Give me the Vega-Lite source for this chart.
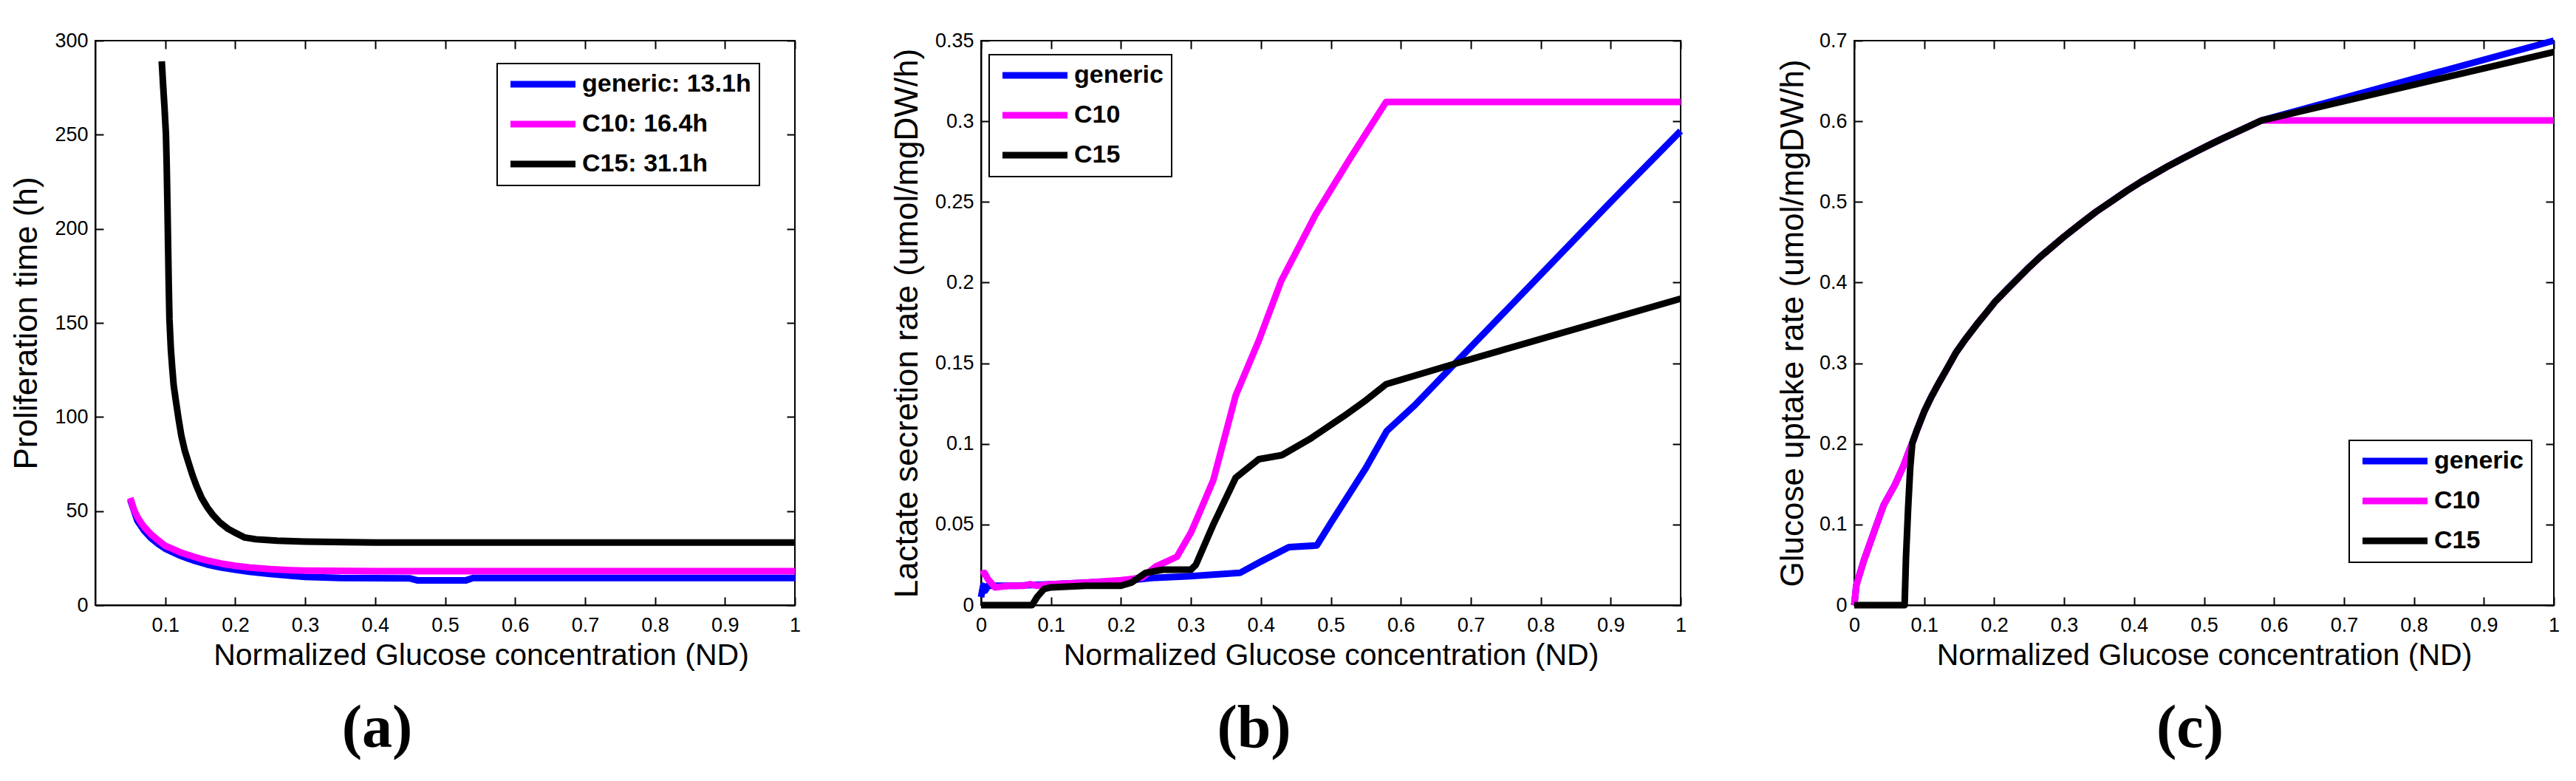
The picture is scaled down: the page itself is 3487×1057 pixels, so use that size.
{
  "$schema": "https://vega.github.io/schema/vega-lite/v6.json",
  "background": "white",
  "padding": {"left": 13, "top": 40, "right": 5, "bottom": 5},
  "spacing": 120,
  "resolve": {"scale": {"color": "independent"}, "legend": {"color": "independent"}},
  "datasets": {
    "a": [
      {"s": "generic", "x": 0.05, "y": 56}, {"s": "generic", "x": 0.06, "y": 45}, {"s": "generic", "x": 0.07, "y": 39.5},
      {"s": "generic", "x": 0.08, "y": 35.5}, {"s": "generic", "x": 0.09, "y": 32.5}, {"s": "generic", "x": 0.1, "y": 30},
      {"s": "generic", "x": 0.12, "y": 26.5}, {"s": "generic", "x": 0.14, "y": 23.8}, {"s": "generic", "x": 0.16, "y": 21.6},
      {"s": "generic", "x": 0.18, "y": 20}, {"s": "generic", "x": 0.2, "y": 18.8}, {"s": "generic", "x": 0.22, "y": 17.8},
      {"s": "generic", "x": 0.25, "y": 16.6}, {"s": "generic", "x": 0.28, "y": 15.6}, {"s": "generic", "x": 0.3, "y": 15},
      {"s": "generic", "x": 0.35, "y": 14.4}, {"s": "generic", "x": 0.45, "y": 14.2}, {"s": "generic", "x": 0.46, "y": 13.2},
      {"s": "generic", "x": 0.53, "y": 13.2}, {"s": "generic", "x": 0.54, "y": 14.4}, {"s": "generic", "x": 1, "y": 14.4},
      {"s": "C10", "x": 0.05, "y": 57}, {"s": "C10", "x": 0.055, "y": 51}, {"s": "C10", "x": 0.06, "y": 47},
      {"s": "C10", "x": 0.065, "y": 44}, {"s": "C10", "x": 0.07, "y": 41.5}, {"s": "C10", "x": 0.075, "y": 39.5},
      {"s": "C10", "x": 0.08, "y": 37.5}, {"s": "C10", "x": 0.09, "y": 34.5}, {"s": "C10", "x": 0.1, "y": 31.5},
      {"s": "C10", "x": 0.11, "y": 30}, {"s": "C10", "x": 0.12, "y": 28.3}, {"s": "C10", "x": 0.13, "y": 27},
      {"s": "C10", "x": 0.14, "y": 25.8}, {"s": "C10", "x": 0.15, "y": 24.7}, {"s": "C10", "x": 0.16, "y": 23.7},
      {"s": "C10", "x": 0.18, "y": 22.1}, {"s": "C10", "x": 0.2, "y": 20.9}, {"s": "C10", "x": 0.22, "y": 20},
      {"s": "C10", "x": 0.25, "y": 19.1}, {"s": "C10", "x": 0.28, "y": 18.6}, {"s": "C10", "x": 0.3, "y": 18.4},
      {"s": "C10", "x": 0.4, "y": 18.1}, {"s": "C10", "x": 1, "y": 18.1},
      {"s": "C15", "x": 0.095, "y": 289}, {"s": "C15", "x": 0.097, "y": 276}, {"s": "C15", "x": 0.099, "y": 264},
      {"s": "C15", "x": 0.101, "y": 250}, {"s": "C15", "x": 0.102, "y": 235}, {"s": "C15", "x": 0.103, "y": 215},
      {"s": "C15", "x": 0.104, "y": 192}, {"s": "C15", "x": 0.105, "y": 170}, {"s": "C15", "x": 0.106, "y": 152},
      {"s": "C15", "x": 0.108, "y": 136}, {"s": "C15", "x": 0.11, "y": 126}, {"s": "C15", "x": 0.112, "y": 117},
      {"s": "C15", "x": 0.115, "y": 109}, {"s": "C15", "x": 0.119, "y": 99}, {"s": "C15", "x": 0.123, "y": 90},
      {"s": "C15", "x": 0.128, "y": 82}, {"s": "C15", "x": 0.133, "y": 76}, {"s": "C15", "x": 0.139, "y": 69},
      {"s": "C15", "x": 0.145, "y": 63}, {"s": "C15", "x": 0.152, "y": 57}, {"s": "C15", "x": 0.16, "y": 52},
      {"s": "C15", "x": 0.168, "y": 48}, {"s": "C15", "x": 0.178, "y": 44}, {"s": "C15", "x": 0.19, "y": 40.5},
      {"s": "C15", "x": 0.2, "y": 38.5}, {"s": "C15", "x": 0.213, "y": 36}, {"s": "C15", "x": 0.23, "y": 35},
      {"s": "C15", "x": 0.26, "y": 34.3}, {"s": "C15", "x": 0.3, "y": 33.8}, {"s": "C15", "x": 0.4, "y": 33.3},
      {"s": "C15", "x": 0.6, "y": 33.3}, {"s": "C15", "x": 1, "y": 33.3}
    ],
    "b": [
      {"s": "generic", "x": 0, "y": 0.005}, {"s": "generic", "x": 0.003, "y": 0.012}, {"s": "generic", "x": 0.006, "y": 0.009},
      {"s": "generic", "x": 0.01, "y": 0.012}, {"s": "generic", "x": 0.05, "y": 0.012}, {"s": "generic", "x": 0.1, "y": 0.013},
      {"s": "generic", "x": 0.15, "y": 0.014}, {"s": "generic", "x": 0.2, "y": 0.015}, {"s": "generic", "x": 0.25, "y": 0.017},
      {"s": "generic", "x": 0.3, "y": 0.018}, {"s": "generic", "x": 0.37, "y": 0.02}, {"s": "generic", "x": 0.4, "y": 0.027},
      {"s": "generic", "x": 0.44, "y": 0.036}, {"s": "generic", "x": 0.48, "y": 0.037}, {"s": "generic", "x": 0.5, "y": 0.051},
      {"s": "generic", "x": 0.55, "y": 0.085}, {"s": "generic", "x": 0.58, "y": 0.108}, {"s": "generic", "x": 0.62, "y": 0.124},
      {"s": "generic", "x": 0.7, "y": 0.16}, {"s": "generic", "x": 0.8, "y": 0.205}, {"s": "generic", "x": 0.9, "y": 0.25},
      {"s": "generic", "x": 1, "y": 0.294},
      {"s": "C10", "x": 0, "y": 0.019}, {"s": "C10", "x": 0.005, "y": 0.02}, {"s": "C10", "x": 0.01, "y": 0.016},
      {"s": "C10", "x": 0.02, "y": 0.011}, {"s": "C10", "x": 0.04, "y": 0.012}, {"s": "C10", "x": 0.06, "y": 0.012},
      {"s": "C10", "x": 0.07, "y": 0.013}, {"s": "C10", "x": 0.08, "y": 0.012}, {"s": "C10", "x": 0.1, "y": 0.013},
      {"s": "C10", "x": 0.15, "y": 0.014}, {"s": "C10", "x": 0.2, "y": 0.0155}, {"s": "C10", "x": 0.23, "y": 0.017},
      {"s": "C10", "x": 0.25, "y": 0.024}, {"s": "C10", "x": 0.28, "y": 0.03}, {"s": "C10", "x": 0.3, "y": 0.045},
      {"s": "C10", "x": 0.31, "y": 0.055}, {"s": "C10", "x": 0.332, "y": 0.0775}, {"s": "C10", "x": 0.364, "y": 0.13},
      {"s": "C10", "x": 0.397, "y": 0.164}, {"s": "C10", "x": 0.429, "y": 0.201}, {"s": "C10", "x": 0.478, "y": 0.242},
      {"s": "C10", "x": 0.526, "y": 0.276}, {"s": "C10", "x": 0.579, "y": 0.312}, {"s": "C10", "x": 1, "y": 0.312},
      {"s": "C15", "x": 0, "y": 0}, {"s": "C15", "x": 0.073, "y": 0}, {"s": "C15", "x": 0.08, "y": 0.005},
      {"s": "C15", "x": 0.09, "y": 0.01}, {"s": "C15", "x": 0.1, "y": 0.011}, {"s": "C15", "x": 0.15, "y": 0.012},
      {"s": "C15", "x": 0.2, "y": 0.012}, {"s": "C15", "x": 0.215, "y": 0.014}, {"s": "C15", "x": 0.235, "y": 0.02},
      {"s": "C15", "x": 0.26, "y": 0.022}, {"s": "C15", "x": 0.3, "y": 0.022}, {"s": "C15", "x": 0.307, "y": 0.025},
      {"s": "C15", "x": 0.332, "y": 0.05}, {"s": "C15", "x": 0.364, "y": 0.079}, {"s": "C15", "x": 0.397, "y": 0.0905},
      {"s": "C15", "x": 0.43, "y": 0.093}, {"s": "C15", "x": 0.47, "y": 0.103}, {"s": "C15", "x": 0.518, "y": 0.117},
      {"s": "C15", "x": 0.55, "y": 0.127}, {"s": "C15", "x": 0.579, "y": 0.137}, {"s": "C15", "x": 0.672, "y": 0.149},
      {"s": "C15", "x": 1, "y": 0.19}
    ],
    "c": [
      {"s": "generic", "x": 0, "y": 0}, {"s": "generic", "x": 0.003, "y": 0.025}, {"s": "generic", "x": 0.014, "y": 0.056},
      {"s": "generic", "x": 0.03, "y": 0.095}, {"s": "generic", "x": 0.042, "y": 0.124}, {"s": "generic", "x": 0.058, "y": 0.149},
      {"s": "generic", "x": 0.07, "y": 0.172}, {"s": "generic", "x": 0.08, "y": 0.195}, {"s": "generic", "x": 0.083, "y": 0.201},
      {"s": "generic", "x": 0.09, "y": 0.218}, {"s": "generic", "x": 0.1, "y": 0.24}, {"s": "generic", "x": 0.11, "y": 0.258},
      {"s": "generic", "x": 0.12, "y": 0.274}, {"s": "generic", "x": 0.135, "y": 0.297}, {"s": "generic", "x": 0.146, "y": 0.314},
      {"s": "generic", "x": 0.16, "y": 0.331}, {"s": "generic", "x": 0.175, "y": 0.348}, {"s": "generic", "x": 0.19, "y": 0.364},
      {"s": "generic", "x": 0.202, "y": 0.377}, {"s": "generic", "x": 0.22, "y": 0.393}, {"s": "generic", "x": 0.235, "y": 0.406},
      {"s": "generic", "x": 0.25, "y": 0.419}, {"s": "generic", "x": 0.266, "y": 0.432}, {"s": "generic", "x": 0.285, "y": 0.446},
      {"s": "generic", "x": 0.3, "y": 0.457}, {"s": "generic", "x": 0.325, "y": 0.474}, {"s": "generic", "x": 0.346, "y": 0.488},
      {"s": "generic", "x": 0.37, "y": 0.502}, {"s": "generic", "x": 0.39, "y": 0.514}, {"s": "generic", "x": 0.41, "y": 0.525},
      {"s": "generic", "x": 0.426, "y": 0.533}, {"s": "generic", "x": 0.45, "y": 0.545}, {"s": "generic", "x": 0.47, "y": 0.554},
      {"s": "generic", "x": 0.49, "y": 0.563}, {"s": "generic", "x": 0.506, "y": 0.57}, {"s": "generic", "x": 0.525, "y": 0.578},
      {"s": "generic", "x": 0.545, "y": 0.586}, {"s": "generic", "x": 0.565, "y": 0.594}, {"s": "generic", "x": 0.582, "y": 0.601},
      {"s": "generic", "x": 1, "y": 0.7},
      {"s": "C10", "x": 0, "y": 0}, {"s": "C10", "x": 0.003, "y": 0.025}, {"s": "C10", "x": 0.014, "y": 0.056},
      {"s": "C10", "x": 0.03, "y": 0.095}, {"s": "C10", "x": 0.042, "y": 0.124}, {"s": "C10", "x": 0.058, "y": 0.149},
      {"s": "C10", "x": 0.07, "y": 0.172}, {"s": "C10", "x": 0.08, "y": 0.195}, {"s": "C10", "x": 0.083, "y": 0.201},
      {"s": "C10", "x": 0.09, "y": 0.218}, {"s": "C10", "x": 0.1, "y": 0.24}, {"s": "C10", "x": 0.11, "y": 0.258},
      {"s": "C10", "x": 0.12, "y": 0.274}, {"s": "C10", "x": 0.135, "y": 0.297}, {"s": "C10", "x": 0.146, "y": 0.314},
      {"s": "C10", "x": 0.16, "y": 0.331}, {"s": "C10", "x": 0.175, "y": 0.348}, {"s": "C10", "x": 0.19, "y": 0.364},
      {"s": "C10", "x": 0.202, "y": 0.377}, {"s": "C10", "x": 0.22, "y": 0.393}, {"s": "C10", "x": 0.235, "y": 0.406},
      {"s": "C10", "x": 0.25, "y": 0.419}, {"s": "C10", "x": 0.266, "y": 0.432}, {"s": "C10", "x": 0.285, "y": 0.446},
      {"s": "C10", "x": 0.3, "y": 0.457}, {"s": "C10", "x": 0.325, "y": 0.474}, {"s": "C10", "x": 0.346, "y": 0.488},
      {"s": "C10", "x": 0.37, "y": 0.502}, {"s": "C10", "x": 0.39, "y": 0.514}, {"s": "C10", "x": 0.41, "y": 0.525},
      {"s": "C10", "x": 0.426, "y": 0.533}, {"s": "C10", "x": 0.45, "y": 0.545}, {"s": "C10", "x": 0.47, "y": 0.554},
      {"s": "C10", "x": 0.49, "y": 0.563}, {"s": "C10", "x": 0.506, "y": 0.57}, {"s": "C10", "x": 0.525, "y": 0.578},
      {"s": "C10", "x": 0.545, "y": 0.586}, {"s": "C10", "x": 0.565, "y": 0.594}, {"s": "C10", "x": 0.582, "y": 0.601},
      {"s": "C10", "x": 1, "y": 0.601},
      {"s": "C15", "x": 0, "y": 0}, {"s": "C15", "x": 0.072, "y": 0}, {"s": "C15", "x": 0.074, "y": 0.06},
      {"s": "C15", "x": 0.077, "y": 0.12}, {"s": "C15", "x": 0.08, "y": 0.17}, {"s": "C15", "x": 0.083, "y": 0.201},
      {"s": "C15", "x": 0.09, "y": 0.218}, {"s": "C15", "x": 0.1, "y": 0.24}, {"s": "C15", "x": 0.11, "y": 0.258},
      {"s": "C15", "x": 0.12, "y": 0.274}, {"s": "C15", "x": 0.135, "y": 0.297}, {"s": "C15", "x": 0.146, "y": 0.314},
      {"s": "C15", "x": 0.16, "y": 0.331}, {"s": "C15", "x": 0.175, "y": 0.348}, {"s": "C15", "x": 0.19, "y": 0.364},
      {"s": "C15", "x": 0.202, "y": 0.377}, {"s": "C15", "x": 0.22, "y": 0.393}, {"s": "C15", "x": 0.235, "y": 0.406},
      {"s": "C15", "x": 0.25, "y": 0.419}, {"s": "C15", "x": 0.266, "y": 0.432}, {"s": "C15", "x": 0.285, "y": 0.446},
      {"s": "C15", "x": 0.3, "y": 0.457}, {"s": "C15", "x": 0.325, "y": 0.474}, {"s": "C15", "x": 0.346, "y": 0.488},
      {"s": "C15", "x": 0.37, "y": 0.502}, {"s": "C15", "x": 0.39, "y": 0.514}, {"s": "C15", "x": 0.41, "y": 0.525},
      {"s": "C15", "x": 0.426, "y": 0.533}, {"s": "C15", "x": 0.45, "y": 0.545}, {"s": "C15", "x": 0.47, "y": 0.554},
      {"s": "C15", "x": 0.49, "y": 0.563}, {"s": "C15", "x": 0.506, "y": 0.57}, {"s": "C15", "x": 0.525, "y": 0.578},
      {"s": "C15", "x": 0.545, "y": 0.586}, {"s": "C15", "x": 0.565, "y": 0.594}, {"s": "C15", "x": 0.582, "y": 0.601},
      {"s": "C15", "x": 1, "y": 0.686}
    ]
  },
  "hconcat": [
    {
      "width": 947,
      "height": 764,
      "data": {"name": "a"},
      "title": {"text": "(a)", "orient": "bottom", "anchor": "middle", "frame": "group", "dx": -92, "offset": 39},
      "layer": [
        {
          "mark": {"type": "line", "strokeWidth": 9, "strokeJoin": "round"},
          "encoding": {
            "x": {"field": "x", "type": "quantitative", "scale": {"domain": [0.05, 1]},
                  "axis": {"title": "Normalized Glucose concentration (ND)", "format": "~f", "titleX": 522,
                           "values": [0.1, 0.2, 0.3, 0.4, 0.5, 0.6, 0.7, 0.8, 0.9, 1]}},
            "y": {"field": "y", "type": "quantitative", "scale": {"domain": [0, 300]},
                  "axis": {"title": "Proliferation time (h)", "format": "~f", "titlePadding": 21,
                           "values": [0, 50, 100, 150, 200, 250, 300]}},
            "color": {"field": "s", "type": "nominal",
                      "scale": {"domain": ["generic", "C10", "C15"], "range": ["#0000ff", "#ff00ff", "#000000"]},
                      "legend": {"orient": "none", "legendX": 544, "legendY": 31, "title": null,
                                 "labelExpr": "datum.label == 'generic' ? 'generic: 13.1h' : datum.label == 'C10' ? 'C10: 16.4h' : 'C15: 31.1h'"}}
          }
        },
        {
          "mark": {"type": "line", "opacity": 0},
          "encoding": {
            "x": {"field": "x", "type": "quantitative",
                  "axis": {"orient": "top", "labels": false, "title": null, "domain": false, "minExtent": 0, "maxExtent": 0,
                           "values": [0.1, 0.2, 0.3, 0.4, 0.5, 0.6, 0.7, 0.8, 0.9, 1]}},
            "y": {"field": "y", "type": "quantitative",
                  "axis": {"orient": "right", "labels": false, "title": null, "domain": false, "minExtent": 0, "maxExtent": 0,
                           "values": [0, 50, 100, 150, 200, 250, 300]}}
          }
        }
      ],
      "resolve": {"axis": {"x": "independent", "y": "independent"}}
    },
    {
      "width": 947,
      "height": 764,
      "data": {"name": "b"},
      "title": {"text": "(b)", "orient": "bottom", "anchor": "middle", "frame": "group", "dx": -104, "offset": 39},
      "layer": [
        {
          "mark": {"type": "line", "strokeWidth": 9, "strokeJoin": "round"},
          "encoding": {
            "x": {"field": "x", "type": "quantitative", "scale": {"domain": [0, 1]},
                  "axis": {"title": "Normalized Glucose concentration (ND)", "format": "~f",
                           "values": [0, 0.1, 0.2, 0.3, 0.4, 0.5, 0.6, 0.7, 0.8, 0.9, 1]}},
            "y": {"field": "y", "type": "quantitative", "scale": {"domain": [0, 0.35]},
                  "axis": {"title": "Lactate secretion rate (umol/mgDW/h)", "format": "~f", "titlePadding": 28,
                           "values": [0, 0.05, 0.1, 0.15, 0.2, 0.25, 0.3, 0.35]}},
            "color": {"field": "s", "type": "nominal",
                      "scale": {"domain": ["generic", "C10", "C15"], "range": ["#0000ff", "#ff00ff", "#000000"]},
                      "legend": {"orient": "none", "legendX": 11, "legendY": 19, "title": null}}
          }
        },
        {
          "mark": {"type": "line", "opacity": 0},
          "encoding": {
            "x": {"field": "x", "type": "quantitative",
                  "axis": {"orient": "top", "labels": false, "title": null, "domain": false, "minExtent": 0, "maxExtent": 0,
                           "values": [0, 0.1, 0.2, 0.3, 0.4, 0.5, 0.6, 0.7, 0.8, 0.9, 1]}},
            "y": {"field": "y", "type": "quantitative",
                  "axis": {"orient": "right", "labels": false, "title": null, "domain": false, "minExtent": 0, "maxExtent": 0,
                           "values": [0, 0.05, 0.1, 0.15, 0.2, 0.25, 0.3, 0.35]}}
          }
        }
      ],
      "resolve": {"axis": {"x": "independent", "y": "independent"}}
    },
    {
      "width": 947,
      "height": 764,
      "data": {"name": "c"},
      "title": {"text": "(c)", "orient": "bottom", "anchor": "middle", "frame": "group", "dx": -19, "offset": 39},
      "layer": [
        {
          "mark": {"type": "line", "strokeWidth": 9, "strokeJoin": "round"},
          "encoding": {
            "x": {"field": "x", "type": "quantitative", "scale": {"domain": [0, 1]},
                  "axis": {"title": "Normalized Glucose concentration (ND)", "format": "~f",
                           "values": [0, 0.1, 0.2, 0.3, 0.4, 0.5, 0.6, 0.7, 0.8, 0.9, 1]}},
            "y": {"field": "y", "type": "quantitative", "scale": {"domain": [0, 0.7]},
                  "axis": {"title": "Glucose uptake rate (umol/mgDW/h)", "format": "~f", "titlePadding": 11,
                           "values": [0, 0.1, 0.2, 0.3, 0.4, 0.5, 0.6, 0.7]}},
            "color": {"field": "s", "type": "nominal",
                      "scale": {"domain": ["generic", "C10", "C15"], "range": ["#0000ff", "#ff00ff", "#000000"]},
                      "legend": {"orient": "none", "legendX": 670, "legendY": 541, "title": null}}
          }
        },
        {
          "mark": {"type": "line", "opacity": 0},
          "encoding": {
            "x": {"field": "x", "type": "quantitative",
                  "axis": {"orient": "top", "labels": false, "title": null, "domain": false, "minExtent": 0, "maxExtent": 0,
                           "values": [0, 0.1, 0.2, 0.3, 0.4, 0.5, 0.6, 0.7, 0.8, 0.9, 1]}},
            "y": {"field": "y", "type": "quantitative",
                  "axis": {"orient": "right", "labels": false, "title": null, "domain": false, "minExtent": 0, "maxExtent": 0,
                           "values": [0, 0.1, 0.2, 0.3, 0.4, 0.5, 0.6, 0.7]}}
          }
        }
      ],
      "resolve": {"axis": {"x": "independent", "y": "independent"}}
    }
  ],
  "config": {
    "view": {"stroke": "black", "strokeWidth": 2},
    "axis": {
      "grid": false, "domainColor": "black", "domainWidth": 2, "tickColor": "black", "tickWidth": 2, "tickSize": -11,
      "labelFont": "Liberation Sans", "labelFontSize": 27, "labelColor": "black", "labelOverlap": false,
      "titleFont": "Liberation Sans", "titleColor": "black", "titleFontWeight": "normal"
    },
    "axisX": {"labelFlush": false, "labelPadding": 25, "minExtent": 38, "maxExtent": 38, "titlePadding": 10, "titleFontSize": 41},
    "axisY": {"labelPadding": 21, "minExtent": 50, "maxExtent": 50, "titleFontSize": 44},
    "legend": {
      "symbolType": "M-0.909,0H7.091", "symbolSize": 484, "symbolStrokeWidth": 9, "labelFont": "Liberation Sans",
      "labelFontSize": 34, "labelFontWeight": "bold", "labelColor": "black", "labelOffset": 70, "labelLimit": 500,
      "padding": 11, "rowPadding": 18, "strokeColor": "black", "strokeWidth": 2, "fillColor": "white"
    },
    "title": {"font": "Liberation Serif", "fontSize": 82, "fontWeight": "bold", "color": "black", "baseline": "top"}
  }
}
